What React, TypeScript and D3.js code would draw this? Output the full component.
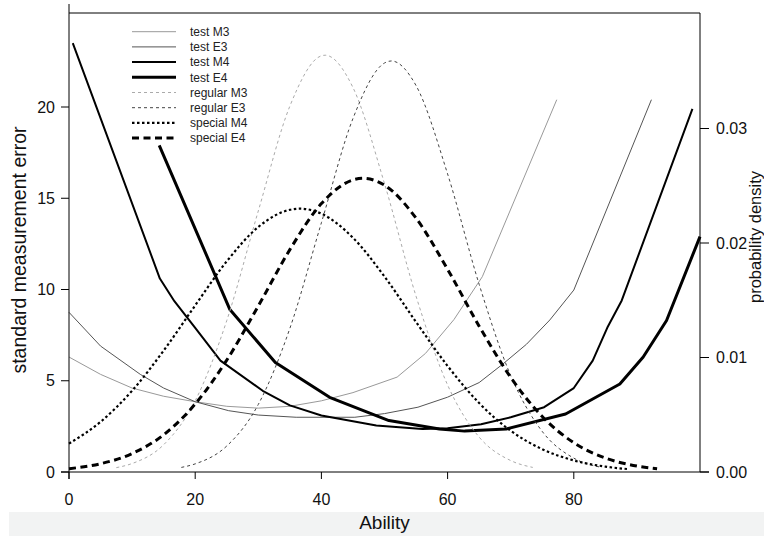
import { useEffect, useRef } from "react";
import * as d3 from "d3";

type Pt = [number, number];

// [ability, standard measurement error]
const testM3: Pt[] = [
  [0, 6.3], [5, 5.35], [10, 4.6], [15, 4.15], [20, 3.85], [25, 3.6], [30, 3.5],
  [35, 3.6], [40, 3.9], [45, 4.35], [52, 5.2], [56.5, 6.5], [61, 8.35], [65.5, 10.7], [77.3, 20.4],
];
const testE3: Pt[] = [
  [0, 8.75], [5, 6.9], [11.3, 5.35], [15, 4.6], [20, 3.85], [25.3, 3.36], [30, 3.12], [36, 3.0],
  [45.3, 3.0], [50, 3.2], [55.3, 3.55], [60, 4.1], [65, 4.9], [68.7, 5.9], [72.5, 7.0],
  [76.2, 8.33], [80, 9.97], [92.3, 20.4],
];
const testM4: Pt[] = [
  [0.6, 23.5], [14.4, 10.6], [16.7, 9.36], [20, 7.9], [24, 6.1], [30.7, 4.45], [35, 3.65],
  [40, 3.1], [48.7, 2.55], [56, 2.36], [60, 2.4], [65.3, 2.62], [70, 3.0], [75.3, 3.55],
  [80, 4.6], [83, 6.1], [85.3, 7.9], [87.6, 9.4], [98.8, 19.9],
];
const testE4: Pt[] = [
  [14.3, 17.9], [25.5, 8.9], [32.7, 6.0], [41.3, 4.09], [50.7, 2.82], [58.7, 2.36],
  [62.7, 2.24], [69.3, 2.36], [78.7, 3.18], [87.3, 4.82], [91, 6.3], [94.7, 8.3], [100, 12.9],
];

// [ability, probability density]
const regularM3: Pt[] = [
  [7.5, 0.00038], [10, 0.00074], [15, 0.00238], [20, 0.00622], [25, 0.01322], [30, 0.0228],
  [35, 0.03195], [40, 0.03635], [40.6, 0.0364], [45, 0.03358], [50, 0.02519], [55, 0.01535],
  [60, 0.0076], [65, 0.00305], [70, 0.001], [73.5, 0.0004],
];
const regularE3: Pt[] = [
  [17.8, 0.0004], [20, 0.00071], [25, 0.00227], [30, 0.0059], [35, 0.01254], [40, 0.02177],
  [45, 0.03087], [50, 0.03572], [51.1, 0.0359], [55, 0.03375], [60, 0.02603], [65, 0.01639],
  [70, 0.00842], [75, 0.00354], [80, 0.00121], [84.4, 0.0004],
];
const specialM4: Pt[] = [
  [0, 0.00248], [5, 0.00438], [10, 0.0071], [15, 0.0106], [20, 0.01455], [25, 0.0184],
  [30, 0.0214], [35, 0.0229], [36.6, 0.023], [40, 0.02256], [45, 0.02046], [50, 0.01707],
  [55, 0.0131], [60, 0.00926], [65, 0.00602], [70, 0.0036], [75, 0.00199], [80, 0.00101],
  [85, 0.00047], [88.7, 0.00025],
];
const specialE4: Pt[] = [
  [0, 0.00029], [5, 0.00072], [10, 0.00161], [15, 0.00325], [20, 0.00594], [25, 0.00977],
  [30, 0.0145], [35, 0.01942], [40, 0.02344], [45, 0.02551], [46.6, 0.02565], [50, 0.02505],
  [55, 0.02217], [60, 0.0177], [65, 0.01274], [70, 0.00827], [75, 0.00484], [80, 0.00256],
  [85, 0.00122], [90, 0.00052], [93.2, 0.00029],
];

const abilityTicks = [0, 20, 40, 60, 80];
const semTicks = [0, 5, 10, 15, 20];
const densityTicks = [0, 0.01, 0.02, 0.03];

const FONT = "'Liberation Sans', Arial, sans-serif";

export default function App() {
  const svgRef = useRef<SVGSVGElement>(null);

  useEffect(() => {
    const svg = d3.select(svgRef.current);
    svg.selectAll("*").remove();

    const x = d3.scaleLinear().domain([0, 100]).range([69, 700]);
    const ySem = d3.scaleLinear().domain([0, 20]).range([472, 107]);
    const yDen = d3.scaleLinear().domain([0, 0.03]).range([472, 128.5]);
    const top = 13;

    // grey strip behind the x title
    svg.append("rect").attr("x", 9).attr("y", 512).attr("width", 755).attr("height", 24).attr("fill", "#f2f3f3");

    const series = [
      { name: "test M3", data: testM3, y: ySem, color: "#999", width: 1, dash: null, curve: d3.curveLinear },
      { name: "test E3", data: testE3, y: ySem, color: "#555", width: 1, dash: null, curve: d3.curveLinear },
      { name: "test M4", data: testM4, y: ySem, color: "#000", width: 2, dash: null, curve: d3.curveLinear },
      { name: "test E4", data: testE4, y: ySem, color: "#000", width: 3, dash: null, curve: d3.curveLinear },
      { name: "regular M3", data: regularM3, y: yDen, color: "#aaa", width: 1, dash: "3,3", curve: d3.curveMonotoneX },
      { name: "regular E3", data: regularE3, y: yDen, color: "#444", width: 1, dash: "3,3", curve: d3.curveMonotoneX },
      { name: "special M4", data: specialM4, y: yDen, color: "#000", width: 2.2, dash: "2.5,2.5", curve: d3.curveMonotoneX },
      { name: "special E4", data: specialE4, y: yDen, color: "#000", width: 3, dash: "7,4.5", curve: d3.curveMonotoneX },
    ];

    series.forEach((s) => {
      const line = d3
        .line<Pt>()
        .x((d) => x(d[0]))
        .y((d) => s.y(d[1]))
        .curve(s.curve);
      svg.append("path")
        .attr("d", line(s.data))
        .attr("fill", "none")
        .attr("stroke", s.color)
        .attr("stroke-width", s.width)
        .attr("stroke-dasharray", s.dash)
        .attr("stroke-linejoin", "round");
    });

    // frame + axes
    const ax = svg.append("g").attr("stroke", "#000").attr("stroke-width", 1);
    ax.append("line").attr("x1", 69).attr("x2", 700).attr("y1", top).attr("y2", top);
    ax.append("line").attr("x1", 69).attr("x2", 69).attr("y1", 4).attr("y2", 479);
    ax.append("line").attr("x1", 700).attr("x2", 700).attr("y1", top).attr("y2", 472);
    ax.append("line").attr("x1", 61).attr("x2", 709).attr("y1", 472).attr("y2", 472);

    abilityTicks.forEach((t) => {
      ax.append("line").attr("x1", x(t)).attr("x2", x(t)).attr("y1", 472).attr("y2", 479);
    });
    semTicks.forEach((t) => {
      ax.append("line").attr("x1", 61).attr("x2", 69).attr("y1", ySem(t)).attr("y2", ySem(t));
    });
    densityTicks.forEach((t) => {
      ax.append("line").attr("x1", 700).attr("x2", 709).attr("y1", yDen(t)).attr("y2", yDen(t));
    });

    const txt = svg.append("g").attr("font-family", FONT).attr("fill", "#111").attr("font-size", 16);
    abilityTicks.forEach((t) => {
      txt.append("text").attr("x", x(t)).attr("y", 499).attr("dy", "0.35em").attr("text-anchor", "middle").text(t);
    });
    semTicks.forEach((t) => {
      txt.append("text").attr("x", 55).attr("y", ySem(t)).attr("dy", "0.35em").attr("text-anchor", "end").text(t);
    });
    densityTicks.forEach((t) => {
      txt.append("text").attr("x", 716).attr("y", yDen(t)).attr("dy", "0.35em").attr("text-anchor", "start").text(d3.format(".2f")(t));
    });

    txt.append("text")
      .attr("x", 384.5).attr("y", 529)
      .attr("font-size", 19)
      .attr("text-anchor", "middle")
      .text("Ability");
    txt.append("text")
      .attr("transform", "translate(26,250) rotate(-90)")
      .attr("font-size", 19.5)
      .attr("text-anchor", "middle")
      .text("standard measurement error");
    txt.append("text")
      .attr("transform", "translate(761,237) rotate(-90)")
      .attr("font-size", 16.5)
      .attr("text-anchor", "middle")
      .text("probability density");

    // legend
    const lg = svg.append("g").attr("font-family", FONT).attr("font-size", 12).attr("fill", "#222");
    series.forEach((s, i) => {
      const yy = 31.7 + i * 15.2;
      lg.append("line")
        .attr("x1", 132).attr("x2", 176).attr("y1", yy).attr("y2", yy)
        .attr("stroke", s.color).attr("stroke-width", s.width).attr("stroke-dasharray", s.dash);
      lg.append("text").attr("x", 190).attr("y", yy).attr("dy", "0.35em").text(s.name);
    });
  }, []);

  return (
    <svg
      ref={svgRef}
      width={764}
      height={536}
      style={{ position: "absolute", left: 0, top: 0, background: "#fff" }}
    />
  );
}
